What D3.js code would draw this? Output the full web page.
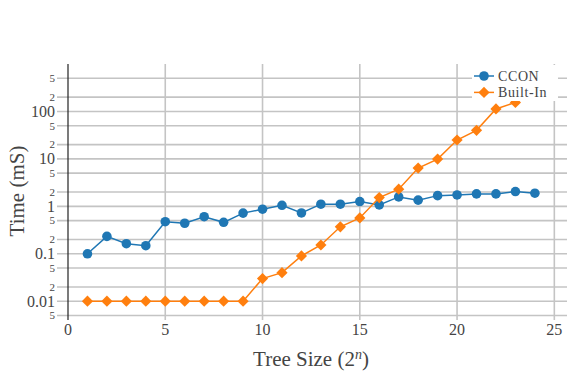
<!DOCTYPE html>
<html><head><meta charset="utf-8">
<script src="https://cdn.jsdelivr.net/npm/d3@7"></script>
<style>body{margin:0;background:#fff}svg{display:block}</style>
</head><body>
<svg id="c" width="567" height="375"></svg>
<script>
const treeSize = [1,2,3,4,5,6,7,8,9,10,11,12,13,14,15,16,17,18,19,20,21,22,23,24];
const ccon = [0.10,0.233,0.163,0.148,0.475,0.44,0.605,0.46,0.72,0.87,1.05,0.725,1.11,1.11,1.26,1.07,1.58,1.35,1.68,1.74,1.83,1.83,2.05,1.89];
const builtIn = [0.01,0.01,0.01,0.01,0.01,0.01,0.01,0.01,0.01,0.030,0.040,0.090,0.153,0.37,0.57,1.53,2.30,6.4,9.9,25,40,113,155,260];
const seriesNames = ["CCON","Built-In"];
const xTicks = [0,5,10,15,20,25];
const yGrid = [0.005,0.01,0.02,0.05,0.1,0.2,0.5,1,2,5,10,20,50,100,200,500];
const yMajor = [0.01,0.1,1,10,100];
const yMajorLabels = ["0.01","0.1","1","10","100"];

const svg = d3.select("#c");
const font = "'Liberation Serif', 'DejaVu Serif', serif";
const x = d3.scaleLinear().domain([0,25.6]).range([68,566]);
const y = d3.scaleLog().domain([0.005,1000]).range([315.5,64]);
const colors = ["#1f77b4","#ff7f0e"];

// grid
const grid = svg.append("g");
grid.selectAll("line.h").data(yGrid).join("line")
  .attr("x1",57).attr("x2",567).attr("y1",d=>y(d)).attr("y2",d=>y(d))
  .attr("stroke","#c4c4c4").attr("stroke-width",1.6);
grid.selectAll("line.v").data(xTicks.filter(d=>d>0)).join("line")
  .attr("x1",d=>x(d)).attr("x2",d=>x(d)).attr("y1",64).attr("y2",320)
  .attr("stroke","#c4c4c4").attr("stroke-width",1.6);

// y axis line
svg.append("line").attr("x1",x(0)).attr("x2",x(0)).attr("y1",64).attr("y2",320)
  .attr("stroke","#222").attr("stroke-width",1.2);

// y tick labels
const yl = svg.append("g").attr("font-family",font).attr("fill","#444").attr("text-anchor","end");
yGrid.forEach(v=>{
  const mi = yMajor.indexOf(v);
  if (mi>=0) {
    yl.append("text").attr("x",55).attr("y",y(v)).attr("dy","0.35em")
      .attr("font-size",16).text(yMajorLabels[mi]);
  } else {
    const m = Math.round(v/Math.pow(10,Math.floor(Math.log10(v)+1e-9)));
    yl.append("text").attr("x",55).attr("y",y(v)).attr("dy","0.35em")
      .attr("font-size",11).text(String(m));
  }
});

// x tick labels
svg.append("g").attr("font-family",font).attr("fill","#444").attr("text-anchor","middle")
  .selectAll("text").data(xTicks).join("text")
  .attr("x",d=>x(d)).attr("y",335).attr("font-size",16).text(d=>d);

// titles
svg.append("text").attr("font-family",font).attr("fill","#444").attr("font-size",21)
  .attr("text-anchor","middle").attr("x",311).attr("y",366)
  .html('Tree Size (2<tspan dy="-7" font-size="14" font-style="italic">n</tspan><tspan dy="7">)</tspan>');
svg.append("text").attr("font-family",font).attr("fill","#444").attr("font-size",21)
  .attr("text-anchor","middle").attr("transform","translate(24,191) rotate(-90)")
  .text("Time (mS)");

// markers
const circlePath = d3.symbol().type(d3.symbolCircle).size(72)();
const diamondPath = "M0,-5.6L5.6,0L0,5.6L-5.6,0Z";
const markers = [circlePath, diamondPath];

// series
const data = [ccon, builtIn];
const line = d3.line().x((d,i)=>x(treeSize[i])).y(d=>y(d));
data.forEach((s,k)=>{
  svg.append("path").datum(s).attr("d",line).attr("fill","none")
    .attr("stroke",colors[k]).attr("stroke-width",1.5);
  svg.append("g").selectAll("path").data(s).join("path")
    .attr("d",markers[k])
    .attr("transform",(d,i)=>`translate(${x(treeSize[i])},${y(d)})`)
    .attr("fill",colors[k]);
});

// legend
const lg = svg.append("g");
lg.append("rect").attr("x",472).attr("y",65).attr("width",86).attr("height",36).attr("fill","#fff");
seriesNames.forEach((n,k)=>{
  const yy = 76 + k*16.4;
  lg.append("line").attr("x1",474).attr("x2",494).attr("y1",yy).attr("y2",yy)
    .attr("stroke",colors[k]).attr("stroke-width",1.5);
  lg.append("path").attr("d",markers[k])
    .attr("transform",`translate(484,${yy})`).attr("fill",colors[k]);
  lg.append("text").attr("x",498).attr("y",yy).attr("dy","0.35em")
    .attr("font-family",font).attr("font-size",14).attr("letter-spacing",0.6).attr("fill","#444").text(n);
});
</script>
</body></html>
